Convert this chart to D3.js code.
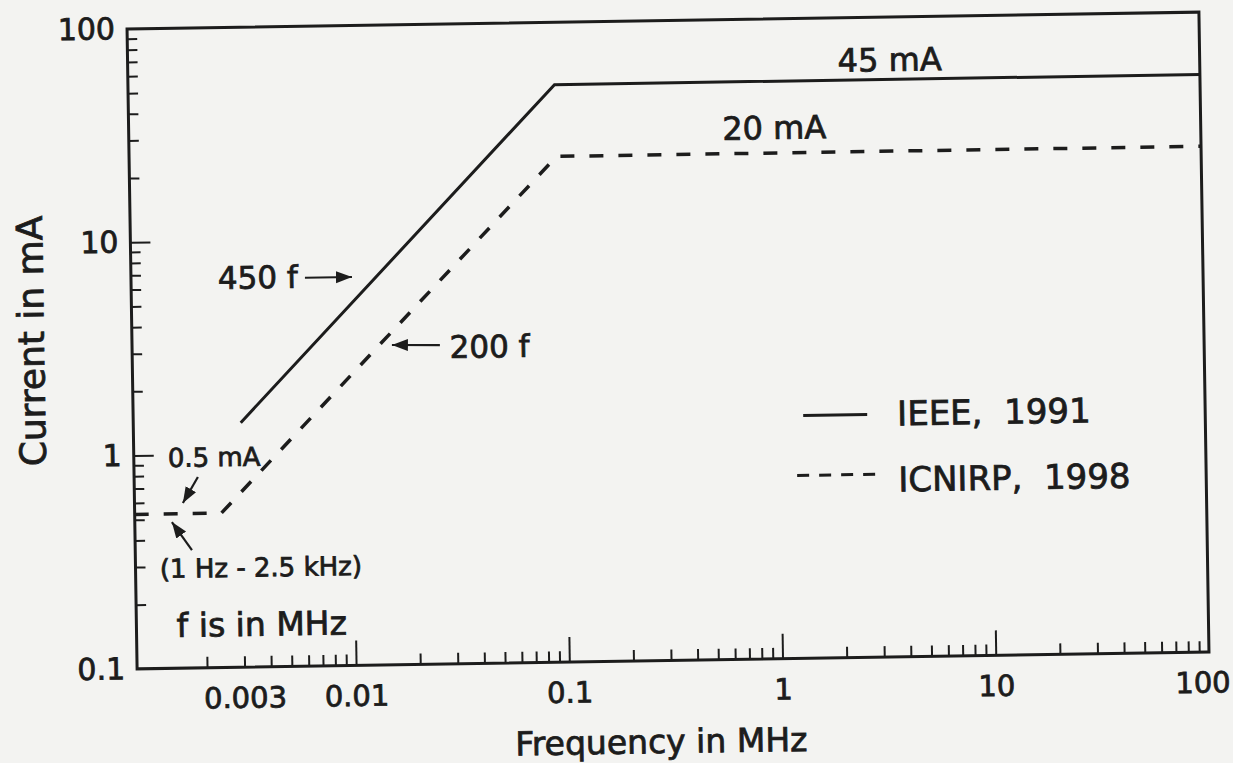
<!DOCTYPE html>
<html><head><meta charset="utf-8">
<script src="https://cdn.jsdelivr.net/npm/d3@7"></script>
<style>
html,body{margin:0;padding:0;background:#f3f3f1;}
svg{display:block;}
text{font-family:"DejaVu Sans",sans-serif;stroke:#1c1c1c;stroke-width:0.8px;}
</style></head><body>
<svg id="chart" width="1233" height="763"></svg>
<script>
// ---------------- data ----------------
const seriesNames = ["IEEE,  1991", "ICNIRP,  1998"];
const ieeeFreq = [0.003, 0.094, 100];
const ieeeCurrent = [1.4, 51, 51];
const icnirpFreq = [0.00094, 0.0024, 0.095, 100];
const icnirpCurrent = [0.53, 0.53, 23.5, 23.5];
const xDomain = [0.00094, 100];
const yDomain = [0.1, 100];
const xLabelValues = [0.003, 0.01, 0.1, 1, 10, 100];
const xLabelTexts = ["0.003", "0.01", "0.1", "1", "10", "100"];
const xMajorTicks = [0.01, 0.1, 1, 10];
const yLabelValues = [0.1, 1, 10, 100];
const yLabelTexts = ["0.1", "1", "10", "100"];
const yMajorTicks = [1, 10];
const minorMultipliers = [2, 3, 4, 5, 6, 7, 8, 9];
const xDecades = [0.001, 0.01, 0.1, 1, 10];
const yDecades = [0.1, 1, 10];
const annotationTexts = ["45 mA", "20 mA", "450 f", "200 f", "0.5 mA", "(1 Hz - 2.5 kHz)", "f is in MHz"];
const annotationFreq = [3.52, 1.0, 0.0024, 0.029, 0.001357, 0.001222, 0.001452];
const annotationCurrent = [55.8, 27.3, 5.95, 2.716, 0.878, 0.2656, 0.14];
const arrowFrom = [[0.00615, 6.62], [0.0261, 3.13], [0.001872, 0.785], [0.001734, 0.3573]];
const arrowTo = [[0.01022, 6.62], [0.01555, 3.156], [0.001585, 0.594], [0.001403, 0.485]];

// ---------------- layout ----------------
const ink = "#1c1c1c";
const svg = d3.select("#chart");
svg.append("rect").attr("width", 1233).attr("height", 763).attr("fill", "#f3f3f1");
svg.append("defs").append("marker")
  .attr("id", "ah").attr("markerUnits", "userSpaceOnUse")
  .attr("markerWidth", 18).attr("markerHeight", 14)
  .attr("refX", 16).attr("refY", 6).attr("orient", "auto")
  .append("path").attr("d", "M0,0 L16,6 L0,12 Z").attr("fill", ink);

const g = svg.append("g").attr("transform", "rotate(-0.9,668,340)");
const x = d3.scaleLog().domain(xDomain).range([132, 1204]);
const y = d3.scaleLog().domain(yDomain).range([660.5, 20.5]);

const xMinor = [], yMinor = [];
xDecades.forEach(d => minorMultipliers.forEach(m => xMinor.push(d * m)));
yDecades.forEach(d => minorMultipliers.forEach(m => yMinor.push(d * m)));

function styleAxis(sel, size) {
  sel.select(".domain").remove();
  sel.attr("font-family", "DejaVu Sans").attr("font-size", size).attr("color", ink);
  sel.selectAll(".tick line").attr("stroke-width", 2);
}

// x axis
const gx = g.append("g").attr("transform", `translate(0,${y.range()[0]})`);
gx.append("g").call(d3.axisBottom(x).tickValues(xMinor).tickSize(-11).tickFormat("")).call(s => styleAxis(s, 29));
gx.append("g").call(d3.axisBottom(x).tickValues(xMajorTicks).tickSize(-25).tickFormat("")).call(s => styleAxis(s, 29));
const gxl = gx.append("g").call(d3.axisBottom(x).tickValues(xLabelValues).tickSize(0).tickPadding(20)
  .tickFormat((d, i) => xLabelTexts[i])).call(s => styleAxis(s, 29));
gxl.selectAll(".tick text").filter(d => d === 100).attr("dx", -7);

// y axis
const gy = g.append("g").attr("transform", `translate(${x.range()[0]},0)`);
gy.append("g").call(d3.axisLeft(y).tickValues(yMinor).tickSize(-10).tickFormat("")).call(s => styleAxis(s, 30));
gy.append("g").call(d3.axisLeft(y).tickValues(yMajorTicks).tickSize(-20).tickFormat("")).call(s => styleAxis(s, 30));
gy.append("g").call(d3.axisLeft(y).tickValues(yLabelValues).tickSize(0).tickPadding(12)
  .tickFormat((d, i) => yLabelTexts[i])).call(s => styleAxis(s, 30));

// frame
g.append("rect")
  .attr("x", x.range()[0]).attr("y", y.range()[1])
  .attr("width", x.range()[1] - x.range()[0]).attr("height", y.range()[0] - y.range()[1])
  .attr("fill", "none").attr("stroke", ink).attr("stroke-width", 3);

// axis titles
g.append("text").attr("x", 655).attr("y", 753).attr("text-anchor", "middle")
  .attr("font-size", 33).attr("fill", ink).text("Frequency in MHz");
g.append("text").attr("transform", "translate(44,331) rotate(-90)").attr("text-anchor", "middle")
  .attr("font-size", 36).attr("fill", ink).text("Current in mA");

// series
const line = d3.line().x(d => x(d[0])).y(d => y(d[1]));
g.append("path").datum(d3.zip(ieeeFreq, ieeeCurrent)).attr("d", line)
  .attr("fill", "none").attr("stroke", ink).attr("stroke-width", 3);
g.append("path").datum(d3.zip(icnirpFreq, icnirpCurrent)).attr("d", line)
  .attr("fill", "none").attr("stroke", ink).attr("stroke-width", 3.5)
  .attr("stroke-dasharray", "14,15");

// annotations
const annSizes = [32, 32, 31, 31, 26, 26, 33];
annotationTexts.forEach((t, i) => {
  g.append("text").attr("x", x(annotationFreq[i])).attr("y", y(annotationCurrent[i]))
    .attr("text-anchor", i < 2 ? "middle" : "start")
    .attr("font-size", annSizes[i]).attr("fill", ink).text(t);
});
arrowFrom.forEach((a, i) => {
  const b = arrowTo[i];
  g.append("line").attr("x1", x(a[0])).attr("y1", y(a[1])).attr("x2", x(b[0])).attr("y2", y(b[1]))
    .attr("stroke", ink).attr("stroke-width", 2.2).attr("marker-end", "url(#ah)");
});

// legend
const legend = g.append("g");
const legendRows = [{y: 417.5, dash: null}, {y: 477.5, dash: "12,10"}];
legendRows.forEach((r, i) => {
  legend.append("line").attr("x1", i === 0 ? 802 : 795).attr("x2", i === 0 ? 866 : 877)
    .attr("y1", r.y).attr("y2", r.y).attr("stroke", ink).attr("stroke-width", 3)
    .attr("stroke-dasharray", r.dash);
  legend.append("text").attr("x", 896).attr("y", r.y + 11.5 + i * 6)
    .attr("font-size", 34).attr("fill", ink).attr("xml:space", "preserve")
    .style("white-space", "pre").text(seriesNames[i]);
});
</script>
</body></html>
